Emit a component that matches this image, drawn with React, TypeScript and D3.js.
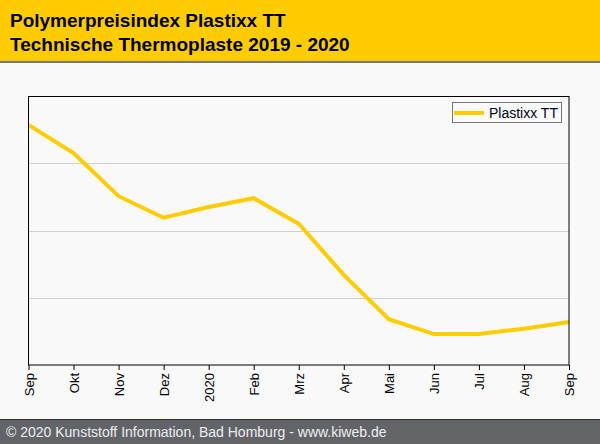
import * as d3 from "d3";
import { useEffect, useRef } from "react";

const months = ["Sep", "Okt", "Nov", "Dez", "2020", "Feb", "Mrz", "Apr", "Mai", "Jun", "Jul", "Aug", "Sep"];
const plastixxTT = [3.57, 3.15, 2.51, 2.19, 2.35, 2.48, 2.1, 1.34, 0.68, 0.46, 0.46, 0.54, 0.64];
const gridValues = [1, 2, 3];
const titleLines = ["Polymerpreisindex Plastixx TT", "Technische Thermoplaste 2019 - 2020"];
const footerText = "\u00A9 2020 Kunststoff Information, Bad Homburg - www.kiweb.de";

const App: React.FC = () => {
  const ref = useRef<HTMLDivElement | null>(null);

  useEffect(() => {
    if (!ref.current) return;
    d3.select(ref.current).selectAll("*").remove();

    const W = 600;
    const H = 444;
    const margin = { top: 96, right: 31, bottom: 79, left: 28.5 };
    const width = W - margin.left - margin.right;
    const height = H - margin.top - margin.bottom;
    const font = "Arial, 'Liberation Sans', sans-serif";

    const root = d3
      .select(ref.current)
      .append("svg")
      .attr("width", W)
      .attr("height", H)
      .style("display", "block")
      .style("font-family", font);

    root.append("rect").attr("width", W).attr("height", H).attr("fill", "#f9f9f9");

    // header
    root.append("rect").attr("width", W).attr("height", 61).attr("fill", "#ffcc00");
    root.append("rect").attr("y", 61).attr("width", W).attr("height", 2).attr("fill", "#777777");
    root
      .selectAll("text.title")
      .data(titleLines)
      .enter()
      .append("text")
      .attr("class", "title")
      .attr("x", 10)
      .attr("y", (_, i) => 27 + i * 24)
      .attr("font-size", 19)
      .attr("font-weight", "bold")
      .attr("fill", "#000")
      .text((d) => d);

    // footer
    root.append("rect").attr("y", 420).attr("width", W).attr("height", 24).attr("fill", "#636468");
    root.append("rect").attr("y", 419).attr("width", W).attr("height", 1).attr("fill", "#333");
    root
      .append("text")
      .attr("x", 6)
      .attr("y", 437)
      .attr("font-size", 14)
      .attr("fill", "#eeeef4")
      .text(footerText);

    const svg = root.append("g").attr("transform", `translate(${margin.left},${margin.top})`);

    const x = d3
      .scaleLinear()
      .domain([0, months.length - 1])
      .range([0, width]);

    const y = d3.scaleLinear().domain([0, 4]).range([height, 0]);

    // grid lines
    svg
      .selectAll("line.grid")
      .data(gridValues)
      .enter()
      .append("line")
      .attr("class", "grid")
      .attr("x1", 0)
      .attr("x2", width)
      .attr("y1", (d) => Math.round(y(d)) + 0.5)
      .attr("y2", (d) => Math.round(y(d)) + 0.5)
      .attr("stroke", "#d0d0d0");

    // x axis
    const xAxis = svg
      .append("g")
      .attr("transform", `translate(0, ${height})`)
      .call(
        d3
          .axisBottom(x)
          .tickValues(d3.range(months.length))
          .tickSize(5)
          .tickFormat((d) => months[d as number])
      );
    xAxis.select(".domain").remove();
    xAxis.selectAll("line").attr("stroke", "#000");
    xAxis
      .selectAll("text")
      .attr("font-size", 13)
      .attr("font-family", font)
      .attr("fill", "#000")
      .attr("transform", "rotate(-90)")
      .attr("text-anchor", "end")
      .attr("x", -8)
      .attr("y", 0)
      .attr("dy", "0.35em");

    const line = d3
      .line<number>()
      .x((_, i) => x(i))
      .y((d) => y(d));

    svg
      .append("path")
      .datum(plastixxTT)
      .attr("fill", "none")
      .attr("stroke", "#ffcc00")
      .attr("stroke-width", 4)
      .attr("stroke-linejoin", "miter")
      .attr("d", line);

    // frame
    svg
      .append("rect")
      .attr("x", 0)
      .attr("y", 0.5)
      .attr("width", width)
      .attr("height", height - 0.5)
      .attr("fill", "none")
      .attr("stroke", "#000");

    // legend
    const legend = svg.append("g").attr("transform", `translate(${452 - margin.left}, ${102 - margin.top})`);
    legend
      .append("rect")
      .attr("x", 0.5)
      .attr("y", 0.5)
      .attr("width", 109)
      .attr("height", 20)
      .attr("fill", "#fafafa")
      .attr("stroke", "#777");
    legend
      .append("line")
      .attr("x1", 2)
      .attr("x2", 32)
      .attr("y1", 11)
      .attr("y2", 11)
      .attr("stroke", "#ffcc00")
      .attr("stroke-width", 4);
    legend
      .append("text")
      .attr("x", 37)
      .attr("y", 16)
      .attr("font-size", 14)
      .attr("fill", "#000020")
      .text("Plastixx TT");
  }, []);

  return <div ref={ref} style={{ position: "absolute", left: 0, top: 0 }} />;
};

export default App;
